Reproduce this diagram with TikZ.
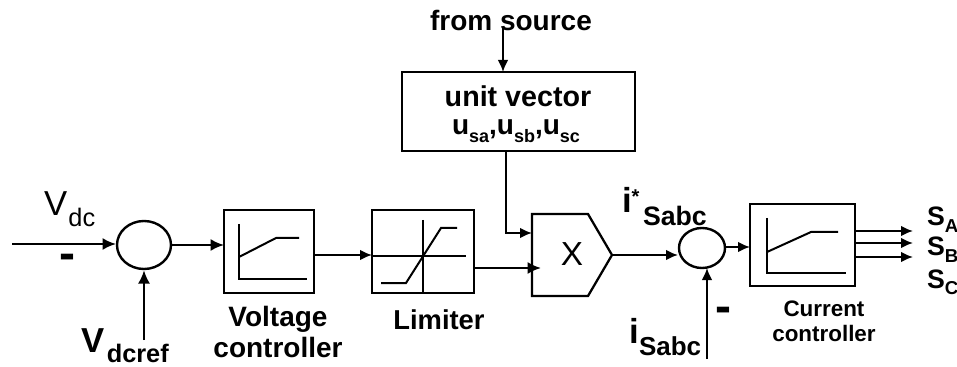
\documentclass[tikz,border=0pt]{standalone}
\usepackage{fontspec}
\setmainfont{Liberation Sans}
\usetikzlibrary{arrows.meta,shapes.geometric}
\newcommand{\fsz}[1]{\fontsize{#1}{#1}\selectfont}
\newcommand{\subdrop}[3]{\raisebox{-#1pt}{\fsz{#2}#3}}
\tikzset{
  x=0.75pt,y=-0.75pt,
  conn/.style={line width=1.7pt,-{Latex[length=10pt,width=9pt]}},
  connthin/.style={line width=1.4pt,-{Latex[length=9pt,width=8pt]}},
  blockbox/.style={draw,line width=1.8pt,minimum width=0pt,inner sep=0pt},
  sumcircle/.style={draw,ellipse,line width=1.8pt,inner sep=0pt},
  curveline/.style={line width=1.5pt},
  lbl/.style={inner sep=0pt,outer sep=0pt,anchor=base west},
  captext/.style={inner sep=0pt,outer sep=0pt,font=\bfseries\fsz{#1},align=center},
}
\begin{document}
\begin{tikzpicture}
\useasboundingbox (0,0) rectangle (957,367);
% summing junctions
\node[sumcircle,minimum width=40.5pt,minimum height=36pt] (sum1) at (144,245) {};
\node[sumcircle,minimum width=34.5pt,minimum height=30pt] (sum2) at (702,248) {};
% blocks
\node[blockbox,minimum width=67.5pt,minimum height=62.25pt] (vc) at (269,251.5) {};
\node[blockbox,minimum width=76.5pt,minimum height=62.25pt] (lim) at (423,251.5) {};
\node[blockbox,minimum width=78.75pt,minimum height=61.5pt] (cc) at (802.5,245) {};
\node[blockbox,minimum width=174.75pt,minimum height=59.25pt] (uv) at (518.5,111.5) {};
% multiplier
\coordinate (ma) at (532,214);
\coordinate (mb) at (588,214);
\coordinate (mtip) at (612,255);
\coordinate (mc) at (588,296);
\coordinate (md) at (532,296);
\draw[line width=1.7pt,line join=miter] (ma) -- (mb) -- (mtip) -- (mc) -- (md) -- cycle;
\node[inner sep=0pt] (xmark) at (572,254) {\fsz{25}X};
% free ends
\coordinate (vdcin) at (12,244);
\coordinate (sum1w) at (116,244);
\coordinate (sum1e) at (172,245);
\coordinate (vcw) at (224,245);
\coordinate (refin) at (144,340);
\coordinate (vce) at (315,255);
\coordinate (limw) at (372,255);
\coordinate (lime) at (474,268);
\coordinate (mw) at (541,268);
\coordinate (srcin) at (503,28);
\coordinate (uvt) at (503,72);
\coordinate (uvb) at (506,151);
\coordinate (mbend) at (506,233);
\coordinate (mw2) at (532,233);
\coordinate (s2w) at (678,255);
\coordinate (s2s) at (707,268);
\coordinate (isin) at (707,359);
\coordinate (s2e) at (725,247);
\coordinate (ccw) at (750,247);
\coordinate (cca) at (855,231);
\coordinate (ccb) at (855,243);
\coordinate (ccc) at (855,257);
\coordinate (oa) at (913,231);
\coordinate (ob) at (913,243);
\coordinate (oc) at (913,257);
% connectors
\draw[conn] (vdcin) -- (sum1w);
\draw[conn] (sum1e) -- (vcw);
\draw[conn] (refin) -- (sum1.south);
\draw[connthin] (vce) -- (limw);
\draw[conn] (lime) -- (mw);
\draw[connthin] (srcin) -- (uvt);
\draw[connthin] (uvb) -- (mbend) -- (mw2);
\draw[connthin] (mtip) -- (s2w);
\draw[connthin] (isin) -- (s2s);
\draw[connthin] (s2e) -- (ccw);
\draw[connthin] (cca) -- (oa);
\draw[connthin] (ccb) -- (ob);
\draw[connthin] (ccc) -- (oc);
% voltage controller characteristic
\draw[curveline] (239,224) -- (239,279) -- (307,279);
\draw[curveline] (239,257) -- (276,238) -- (299,238);
% limiter characteristic
\draw[line width=1.2pt] (423,220) -- (423,293);
\draw[line width=1.2pt] (372,256) -- (466,256);
\draw[curveline] (381,283) -- (406,283) -- (441,228) -- (457,228);
% current controller characteristic
\draw[curveline] (767,218) -- (767,273) -- (846,273);
\draw[curveline] (767,252) -- (811,232) -- (838,232);
% texts
\node[captext=21] (tsrc) at (511,20) {from source};
\node[captext=21.5] (tuv) at (518,96) {unit vector};
\node[lbl] (tu) at (452,135) {\bfseries\fsz{21}u\subdrop{6}{13.5}{sa},u\subdrop{6}{13.5}{sb},u\subdrop{6}{13.5}{sc}};
\node[lbl] (tvdc) at (44,215) {\fsz{26}V\hspace{1pt}\subdrop{9}{19}{dc}};
\node[lbl] (tvref) at (81,352) {\bfseries\fsz{26}V\hspace{2pt}\subdrop{8}{19}{dcref}};
\node[captext=21] (tvc) at (278,332) {Voltage\\[2pt]controller};
\node[captext=20.5] (tlim) at (439,320) {Limiter};
\node[lbl] (tistar) at (622,213) {\bfseries\fsz{26}i\raisebox{7pt}{\fsz{15}*}};
\node[lbl] (tsabc) at (643,225) {\bfseries\fsz{20}Sabc};
\node[lbl] (tisabc) at (629,343) {\bfseries\fsz{26}i};
\node[lbl] (tsabc2) at (639,355) {\bfseries\fsz{19.5}Sabc};
\node[captext=16.8] (tcc) at (824,321) {Current\\[2pt]controller};
\node[lbl] (tsa) at (927,226) {\bfseries\fsz{20}S\subdrop{5}{14}{A}};
\node[lbl] (tsb) at (927,256) {\bfseries\fsz{20}S\subdrop{5}{14}{B}};
\node[lbl] (tsc) at (927,288) {\bfseries\fsz{20}S\subdrop{5}{14}{C}};
\node[captext=36] (m1) at (67,262) {-};
\node[captext=36] (m2) at (723,315) {-};
\end{tikzpicture}
\end{document}
